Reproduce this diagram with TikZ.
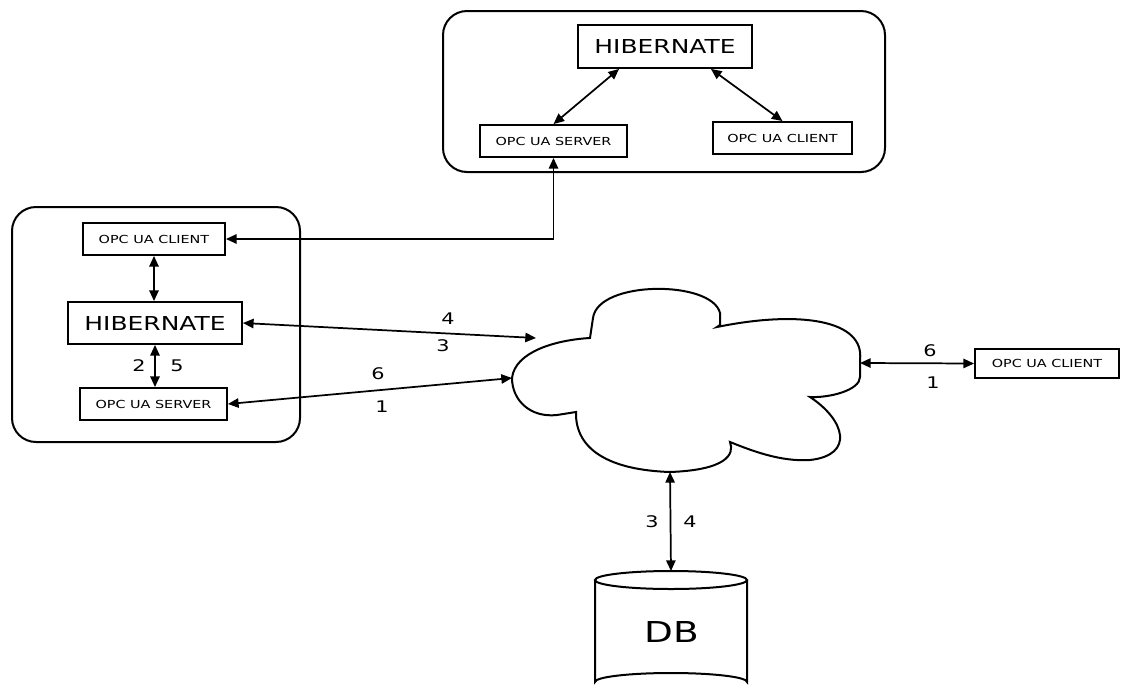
\documentclass[tikz,border=0pt]{standalone}
\usepackage{fontspec}
\newfontfamily\wf[FakeStretch=1.3]{DejaVu Sans}
\usetikzlibrary{arrows.meta,calc}
\begin{document}
\begin{tikzpicture}[x=0.75pt,y=-0.75pt,
  small/.style={draw, line width=1.4pt, inner sep=0pt, font=\wf\fontsize{8.3}{10}\selectfont},
  big/.style={draw, line width=1.4pt, inner sep=0pt, font=\wf\fontsize{14.4}{16}\selectfont},
  container/.style={draw, line width=1.5pt, rounded corners=18pt},
  link/.style={line width=1.3pt, {Triangle[length=8pt,width=7pt]}-{Triangle[length=8pt,width=7pt]}},
  num/.style={inner sep=0pt, font=\wf\fontsize{12}{14}\selectfont},
  cloudline/.style={line width=1.5pt}]
\useasboundingbox (0,0) rectangle (1122,690);
% containers
\draw[container] (443,11) rectangle (885,172);
\draw[container] (12,207) rectangle (300,442);
% top group
\node[big, minimum width=130.5pt, minimum height=32.25pt] (tophib) at (665,46.5) {HIBERNATE};
\node[small, minimum width=110.25pt, minimum height=24pt] (topserver) at (553.5,141) {OPC UA SERVER};
\node[small, minimum width=104.25pt, minimum height=24pt] (topclient) at (782.5,138) {OPC UA CLIENT};
% left group
\node[small, minimum width=106.5pt, minimum height=24pt] (leftclient) at (154,239) {OPC UA CLIENT};
\node[big, minimum width=130.5pt, minimum height=31.5pt] (lefthib) at (155,323) {HIBERNATE};
\node[small, minimum width=110.25pt, minimum height=24pt] (leftserver) at (153.5,404) {OPC UA SERVER};
% right client
\node[small, minimum width=108pt, minimum height=21.75pt] (rightclient) at (1047,363.5) {OPC UA CLIENT};
% cloud
\draw[cloudline] (512,378) .. controls (515,352) and (555,340) .. (590,338)
  -- (593,318) .. controls (598,280) and (712,280) .. (720,313)
  -- (720,325) -- (717,327) .. controls (800,310) and (865,320) .. (860,360)
  -- (860,377) .. controls (860,390) and (830,398) .. (810,397)
  .. controls (845,420) and (855,455) .. (810,460)
  .. controls (780,462) and (750,450) .. (730,442)
  .. controls (735,455) and (725,470) .. (670,472)
  .. controls (610,470) and (575,450) .. (576,412)
  -- (557,415) .. controls (530,418) and (512,400) .. (512,378) -- cycle;
\coordinate (cleft) at (512,378);
\coordinate (cupleft) at (536,338);
\coordinate (cright) at (860,363);
\coordinate (cbottom) at (670,472);
% DB cylinder
\draw[line width=1.5pt] (595,580) -- (595,682) arc[start angle=180, end angle=360, x radius=76, y radius=9] -- (747,580);
\draw[line width=1.5pt] (671,580) ellipse[x radius=76, y radius=9];
\coordinate (dbtop) at (671,571);
\node[inner sep=0pt, font=\wf\fontsize{21.6}{24}\selectfont] (db) at (672,632) {DB};
% connectors
\draw[link] ([xshift=31.5pt]tophib.south west) -- (topserver.north);
\draw[link] ([xshift=-31.5pt]tophib.south east) -- (topclient.north);
\draw[link] (topserver.south) |- (leftclient.east);
\draw[link] (leftclient.south) -- (lefthib.north -| leftclient.south);
\draw[link] (lefthib.south) -- (leftserver.north -| lefthib.south);
\draw[link] (lefthib.east) -- (cupleft);
\draw[link] (leftserver.east) -- (cleft);
\draw[link] (cright) -- (rightclient.west);
\draw[link] (cbottom) -- (dbtop);
% labels
\node[num] (l2) at (139,366) {2};
\node[num] (l5) at (177,366) {5};
\node[num] (l4a) at (448,319) {4};
\node[num] (l3a) at (443,346) {3};
\node[num] (l6a) at (378,374) {6};
\node[num] (l1a) at (382,407) {1};
\node[num] (l6b) at (930,351) {6};
\node[num] (l1b) at (933,383) {1};
\node[num] (l3b) at (652,522) {3};
\node[num] (l4b) at (690,522) {4};
\end{tikzpicture}
\end{document}
